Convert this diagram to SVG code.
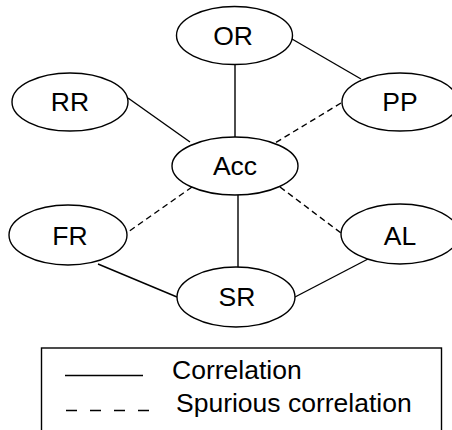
<svg xmlns="http://www.w3.org/2000/svg" width="452" height="430" viewBox="0 0 452 430">
<style>
  .node ellipse { fill: #ffffff; stroke: #000000; stroke-width: 1.4; }
  .node text { font-family: "Liberation Sans", Arial, sans-serif; font-size: 26.5px; fill: #000000; text-anchor: middle; }
  .edge { stroke: #000000; stroke-width: 1.4; fill: none; }
  .dash { stroke-dasharray: 6 4; }
  .legend text { font-family: "Liberation Sans", Arial, sans-serif; font-size: 26.5px; fill: #000000; }
</style>
<rect width="452" height="430" fill="#ffffff"/>
<g id="connectors">
  <line class="edge" x1="235" y1="64" x2="235" y2="137"/>
  <line class="edge" x1="292" y1="39" x2="361" y2="79"/>
  <line class="edge" x1="128" y1="98" x2="190" y2="142"/>
  <line class="edge dash" x1="341" y1="103" x2="275" y2="143"/>
  <line class="edge dash" x1="192" y1="187" x2="128" y2="232"/>
  <line class="edge dash" x1="280" y1="187" x2="341" y2="233"/>
  <line class="edge" x1="238" y1="195" x2="238" y2="267"/>
  <line class="edge" x1="98" y1="264" x2="177" y2="297"/>
  <line class="edge" x1="295" y1="297" x2="368" y2="259"/>
</g>
<g id="OR" class="node">
  <ellipse cx="234.5" cy="35.5" rx="58" ry="29"/>
  <text x="233" y="45">OR</text>
</g>
<g id="RR" class="node">
  <ellipse cx="70" cy="102" rx="58" ry="29"/>
  <text x="70" y="111">RR</text>
</g>
<g id="PP" class="node">
  <ellipse cx="400" cy="102" rx="58" ry="29"/>
  <text x="400" y="111">PP</text>
</g>
<g id="Acc" class="node">
  <ellipse cx="235" cy="166" rx="63" ry="29"/>
  <text x="235" y="175">Acc</text>
</g>
<g id="FR" class="node">
  <ellipse cx="68" cy="235" rx="59" ry="30"/>
  <text x="70" y="245">FR</text>
</g>
<g id="AL" class="node">
  <ellipse cx="400" cy="234" rx="59" ry="30"/>
  <text x="400" y="245">AL</text>
</g>
<g id="SR" class="node">
  <ellipse cx="236" cy="297" rx="59" ry="30"/>
  <text x="237" y="306">SR</text>
</g>
<g id="legend" class="legend">
  <rect x="41.5" y="348" width="400" height="90" fill="none" stroke="#000000" stroke-width="1.4"/>
  <line x1="65" y1="375.5" x2="143" y2="375.5" stroke="#000000" stroke-width="1.4"/>
  <line x1="66" y1="410.5" x2="149" y2="410.5" stroke="#000000" stroke-width="1.4" stroke-dasharray="11 13"/>
  <text x="172" y="379">Correlation</text>
  <text x="176" y="412">Spurious correlation</text>
</g>
</svg>
